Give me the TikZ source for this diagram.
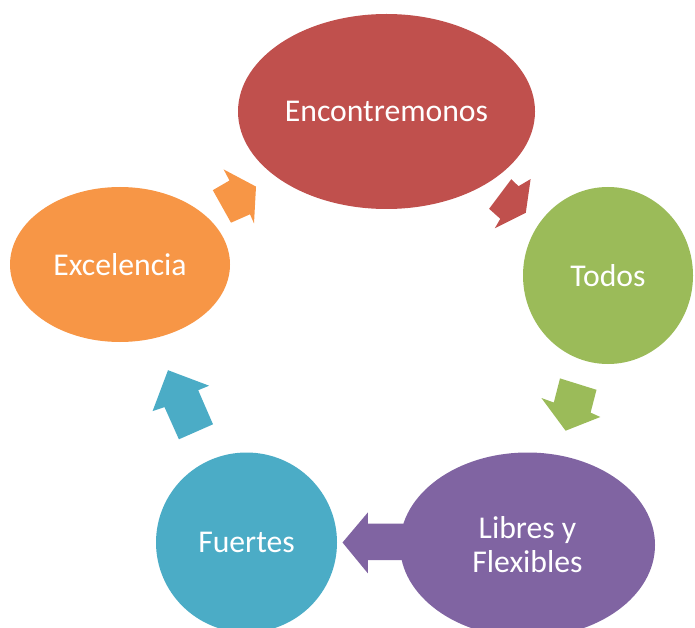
\documentclass[tikz,border=0pt]{standalone}
\usepackage{fontspec}
\setmainfont{Carlito}
\usetikzlibrary{shapes.geometric}
\definecolor{rojo}{HTML}{C0504D}
\definecolor{verde}{HTML}{9BBB59}
\definecolor{morado}{HTML}{8064A2}
\definecolor{celeste}{HTML}{4BACC6}
\definecolor{naranja}{HTML}{F79646}
\begin{document}
\begin{tikzpicture}[x=1pt, y=-1pt]
%estilos
\tikzstyle{burbuja}=[ellipse, inner sep=0pt, text=white, align=center, font=\fontsize{31.7}{34}\selectfont]
\useasboundingbox (0,0) rectangle (695,628);
\clip (0,0) rectangle (695,628);
%flechas
\fill[naranja] (212.8,190.2) -- (229.5,180.5) -- (223.6,169.4) -- (256,186.6) -- (254,223.4) -- (250,214.3) -- (231,222.7) -- cycle;
\fill[rojo] (511.3,179.2) -- (518.5,186.2) -- (530.6,179.1) -- (525.8,212.8) -- (494.8,228.3) -- (500.3,218.8) -- (489.1,208.8) -- cycle;
\fill[verde] (560,378.4) -- (596.5,389.8) -- (590.6,412.6) -- (600.3,417) -- (565.6,430.7) -- (541.4,398) -- (553.8,402.5) -- cycle;
\fill[morado] (410,523.6) -- (367.9,523.6) -- (367.9,512.4) -- (342.5,542.5) -- (367.9,573.4) -- (367.9,560) -- (410,560) -- cycle;
\fill[celeste] (178.9,439.3) -- (164.5,407.1) -- (152.6,411.1) -- (168,370.2) -- (209.1,385.7) -- (198.2,390.2) -- (213,424.3) -- cycle;
%figura
\node[burbuja, fill=rojo, minimum width=297, minimum height=195] (enc) at (386.5,111.5) {Encontremonos};
\node[burbuja, fill=verde, minimum width=170, minimum height=177] (todos) at (608,275.5) {Todos};
\node[burbuja, fill=morado, minimum width=255, minimum height=185] (libres) at (527.5,545) {Libres y\\Flexibles};
\node[burbuja, fill=celeste, minimum width=181, minimum height=180] (fuertes) at (246.5,542.5) {Fuertes};
\node[burbuja, fill=naranja, minimum width=220, minimum height=155] (exc) at (120,264.5) {Excelencia};
\end{tikzpicture}
\end{document}
